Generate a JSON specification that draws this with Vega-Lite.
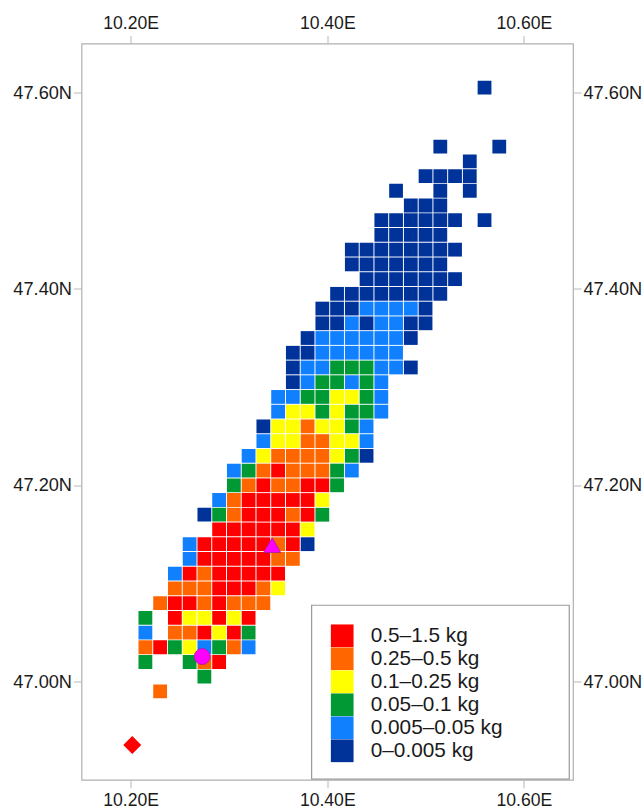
{"$schema":"https://vega.github.io/schema/vega-lite/v6.json","width":491.5,"height":736.3,"autosize":"none","padding":{"left":81.5,"top":43.5,"right":71,"bottom":29.2},"background":"white","config":{"view":{"stroke":"#b0b0b0","strokeWidth":1.2},"axis":{"domain":false,"grid":false,"tickColor":"#b8b8b8","tickSize":8,"tickWidth":1,"labelFont":"Liberation Sans","labelFontSize":17.6,"labelColor":"#1a1a1a","title":null}},"datasets":{"cells":[
{"lon":10.23,"lat":46.99,"load":"0.25–0.5 kg"},
{"lon":10.275,"lat":47.005,"load":"0.05–0.1 kg"},
{"lon":10.215,"lat":47.02,"load":"0.05–0.1 kg"},{"lon":10.26,"lat":47.02,"load":"0.05–0.1 kg"},{"lon":10.275,"lat":47.02,"load":"0.25–0.5 kg"},{"lon":10.29,"lat":47.02,"load":"0.5–1.5 kg"},
{"lon":10.215,"lat":47.035,"load":"0.25–0.5 kg"},{"lon":10.23,"lat":47.035,"load":"0.5–1.5 kg"},{"lon":10.245,"lat":47.035,"load":"0.05–0.1 kg"},{"lon":10.26,"lat":47.035,"load":"0.1–0.25 kg"},{"lon":10.275,"lat":47.035,"load":"0.005–0.05 kg"},{"lon":10.29,"lat":47.035,"load":"0.05–0.1 kg"},{"lon":10.305,"lat":47.035,"load":"0.25–0.5 kg"},{"lon":10.32,"lat":47.035,"load":"0.005–0.05 kg"},
{"lon":10.215,"lat":47.05,"load":"0.005–0.05 kg"},{"lon":10.245,"lat":47.05,"load":"0.25–0.5 kg"},{"lon":10.26,"lat":47.05,"load":"0.25–0.5 kg"},{"lon":10.275,"lat":47.05,"load":"0.5–1.5 kg"},{"lon":10.29,"lat":47.05,"load":"0.1–0.25 kg"},{"lon":10.305,"lat":47.05,"load":"0.5–1.5 kg"},{"lon":10.32,"lat":47.05,"load":"0.05–0.1 kg"},
{"lon":10.215,"lat":47.065,"load":"0.05–0.1 kg"},{"lon":10.245,"lat":47.065,"load":"0.5–1.5 kg"},{"lon":10.26,"lat":47.065,"load":"0.1–0.25 kg"},{"lon":10.275,"lat":47.065,"load":"0.1–0.25 kg"},{"lon":10.29,"lat":47.065,"load":"0.5–1.5 kg"},{"lon":10.305,"lat":47.065,"load":"0.1–0.25 kg"},{"lon":10.32,"lat":47.065,"load":"0.5–1.5 kg"},
{"lon":10.23,"lat":47.08,"load":"0.25–0.5 kg"},{"lon":10.245,"lat":47.08,"load":"0.5–1.5 kg"},{"lon":10.26,"lat":47.08,"load":"0.5–1.5 kg"},{"lon":10.275,"lat":47.08,"load":"0.25–0.5 kg"},{"lon":10.29,"lat":47.08,"load":"0.5–1.5 kg"},{"lon":10.305,"lat":47.08,"load":"0.25–0.5 kg"},{"lon":10.32,"lat":47.08,"load":"0.25–0.5 kg"},{"lon":10.335,"lat":47.08,"load":"0.25–0.5 kg"},
{"lon":10.245,"lat":47.095,"load":"0.25–0.5 kg"},{"lon":10.26,"lat":47.095,"load":"0.25–0.5 kg"},{"lon":10.275,"lat":47.095,"load":"0.25–0.5 kg"},{"lon":10.29,"lat":47.095,"load":"0.5–1.5 kg"},{"lon":10.305,"lat":47.095,"load":"0.5–1.5 kg"},{"lon":10.32,"lat":47.095,"load":"0.5–1.5 kg"},{"lon":10.335,"lat":47.095,"load":"0.25–0.5 kg"},{"lon":10.35,"lat":47.095,"load":"0.1–0.25 kg"},
{"lon":10.245,"lat":47.11,"load":"0.005–0.05 kg"},{"lon":10.26,"lat":47.11,"load":"0.5–1.5 kg"},{"lon":10.275,"lat":47.11,"load":"0.25–0.5 kg"},{"lon":10.29,"lat":47.11,"load":"0.5–1.5 kg"},{"lon":10.305,"lat":47.11,"load":"0.5–1.5 kg"},{"lon":10.32,"lat":47.11,"load":"0.5–1.5 kg"},{"lon":10.335,"lat":47.11,"load":"0.5–1.5 kg"},{"lon":10.35,"lat":47.11,"load":"0.5–1.5 kg"},
{"lon":10.26,"lat":47.125,"load":"0.005–0.05 kg"},{"lon":10.275,"lat":47.125,"load":"0.5–1.5 kg"},{"lon":10.29,"lat":47.125,"load":"0.5–1.5 kg"},{"lon":10.305,"lat":47.125,"load":"0.5–1.5 kg"},{"lon":10.32,"lat":47.125,"load":"0.5–1.5 kg"},{"lon":10.335,"lat":47.125,"load":"0.5–1.5 kg"},{"lon":10.35,"lat":47.125,"load":"0.25–0.5 kg"},{"lon":10.365,"lat":47.125,"load":"0.25–0.5 kg"},
{"lon":10.26,"lat":47.14,"load":"0.005–0.05 kg"},{"lon":10.275,"lat":47.14,"load":"0.5–1.5 kg"},{"lon":10.29,"lat":47.14,"load":"0.5–1.5 kg"},{"lon":10.305,"lat":47.14,"load":"0.5–1.5 kg"},{"lon":10.32,"lat":47.14,"load":"0.5–1.5 kg"},{"lon":10.335,"lat":47.14,"load":"0.5–1.5 kg"},{"lon":10.35,"lat":47.14,"load":"0.25–0.5 kg"},{"lon":10.365,"lat":47.14,"load":"0.5–1.5 kg"},{"lon":10.38,"lat":47.14,"load":"0–0.005 kg"},
{"lon":10.29,"lat":47.155,"load":"0.5–1.5 kg"},{"lon":10.305,"lat":47.155,"load":"0.5–1.5 kg"},{"lon":10.32,"lat":47.155,"load":"0.5–1.5 kg"},{"lon":10.335,"lat":47.155,"load":"0.5–1.5 kg"},{"lon":10.35,"lat":47.155,"load":"0.5–1.5 kg"},{"lon":10.365,"lat":47.155,"load":"0.5–1.5 kg"},{"lon":10.38,"lat":47.155,"load":"0.1–0.25 kg"},
{"lon":10.275,"lat":47.17,"load":"0–0.005 kg"},{"lon":10.29,"lat":47.17,"load":"0.05–0.1 kg"},{"lon":10.305,"lat":47.17,"load":"0.25–0.5 kg"},{"lon":10.32,"lat":47.17,"load":"0.5–1.5 kg"},{"lon":10.335,"lat":47.17,"load":"0.5–1.5 kg"},{"lon":10.35,"lat":47.17,"load":"0.5–1.5 kg"},{"lon":10.365,"lat":47.17,"load":"0.25–0.5 kg"},{"lon":10.38,"lat":47.17,"load":"0.5–1.5 kg"},{"lon":10.395,"lat":47.17,"load":"0.05–0.1 kg"},
{"lon":10.29,"lat":47.185,"load":"0.005–0.05 kg"},{"lon":10.305,"lat":47.185,"load":"0.25–0.5 kg"},{"lon":10.32,"lat":47.185,"load":"0.5–1.5 kg"},{"lon":10.335,"lat":47.185,"load":"0.5–1.5 kg"},{"lon":10.35,"lat":47.185,"load":"0.5–1.5 kg"},{"lon":10.365,"lat":47.185,"load":"0.5–1.5 kg"},{"lon":10.38,"lat":47.185,"load":"0.5–1.5 kg"},{"lon":10.395,"lat":47.185,"load":"0.1–0.25 kg"},
{"lon":10.305,"lat":47.2,"load":"0.05–0.1 kg"},{"lon":10.32,"lat":47.2,"load":"0.25–0.5 kg"},{"lon":10.335,"lat":47.2,"load":"0.5–1.5 kg"},{"lon":10.35,"lat":47.2,"load":"0.25–0.5 kg"},{"lon":10.365,"lat":47.2,"load":"0.25–0.5 kg"},{"lon":10.38,"lat":47.2,"load":"0.5–1.5 kg"},{"lon":10.395,"lat":47.2,"load":"0.5–1.5 kg"},{"lon":10.41,"lat":47.2,"load":"0.05–0.1 kg"},
{"lon":10.305,"lat":47.215,"load":"0.005–0.05 kg"},{"lon":10.32,"lat":47.215,"load":"0.05–0.1 kg"},{"lon":10.335,"lat":47.215,"load":"0.25–0.5 kg"},{"lon":10.35,"lat":47.215,"load":"0.5–1.5 kg"},{"lon":10.365,"lat":47.215,"load":"0.25–0.5 kg"},{"lon":10.38,"lat":47.215,"load":"0.25–0.5 kg"},{"lon":10.395,"lat":47.215,"load":"0.25–0.5 kg"},{"lon":10.41,"lat":47.215,"load":"0.05–0.1 kg"},{"lon":10.425,"lat":47.215,"load":"0.005–0.05 kg"},
{"lon":10.32,"lat":47.23,"load":"0.005–0.05 kg"},{"lon":10.335,"lat":47.23,"load":"0.1–0.25 kg"},{"lon":10.35,"lat":47.23,"load":"0.25–0.5 kg"},{"lon":10.365,"lat":47.23,"load":"0.25–0.5 kg"},{"lon":10.38,"lat":47.23,"load":"0.25–0.5 kg"},{"lon":10.395,"lat":47.23,"load":"0.25–0.5 kg"},{"lon":10.41,"lat":47.23,"load":"0.1–0.25 kg"},{"lon":10.425,"lat":47.23,"load":"0.05–0.1 kg"},{"lon":10.44,"lat":47.23,"load":"0–0.005 kg"},
{"lon":10.335,"lat":47.245,"load":"0.005–0.05 kg"},{"lon":10.35,"lat":47.245,"load":"0.1–0.25 kg"},{"lon":10.365,"lat":47.245,"load":"0.1–0.25 kg"},{"lon":10.38,"lat":47.245,"load":"0.25–0.5 kg"},{"lon":10.395,"lat":47.245,"load":"0.25–0.5 kg"},{"lon":10.41,"lat":47.245,"load":"0.1–0.25 kg"},{"lon":10.425,"lat":47.245,"load":"0.1–0.25 kg"},{"lon":10.44,"lat":47.245,"load":"0.005–0.05 kg"},
{"lon":10.335,"lat":47.26,"load":"0–0.005 kg"},{"lon":10.35,"lat":47.26,"load":"0.1–0.25 kg"},{"lon":10.365,"lat":47.26,"load":"0.1–0.25 kg"},{"lon":10.38,"lat":47.26,"load":"0.25–0.5 kg"},{"lon":10.395,"lat":47.26,"load":"0.1–0.25 kg"},{"lon":10.41,"lat":47.26,"load":"0.1–0.25 kg"},{"lon":10.425,"lat":47.26,"load":"0.05–0.1 kg"},{"lon":10.44,"lat":47.26,"load":"0.005–0.05 kg"},
{"lon":10.35,"lat":47.275,"load":"0.005–0.05 kg"},{"lon":10.365,"lat":47.275,"load":"0.1–0.25 kg"},{"lon":10.38,"lat":47.275,"load":"0.1–0.25 kg"},{"lon":10.395,"lat":47.275,"load":"0.05–0.1 kg"},{"lon":10.41,"lat":47.275,"load":"0.1–0.25 kg"},{"lon":10.425,"lat":47.275,"load":"0.05–0.1 kg"},{"lon":10.44,"lat":47.275,"load":"0.05–0.1 kg"},{"lon":10.455,"lat":47.275,"load":"0.005–0.05 kg"},
{"lon":10.35,"lat":47.29,"load":"0.005–0.05 kg"},{"lon":10.365,"lat":47.29,"load":"0.005–0.05 kg"},{"lon":10.38,"lat":47.29,"load":"0.05–0.1 kg"},{"lon":10.395,"lat":47.29,"load":"0.05–0.1 kg"},{"lon":10.41,"lat":47.29,"load":"0.1–0.25 kg"},{"lon":10.425,"lat":47.29,"load":"0.1–0.25 kg"},{"lon":10.44,"lat":47.29,"load":"0.05–0.1 kg"},{"lon":10.455,"lat":47.29,"load":"0.005–0.05 kg"},
{"lon":10.365,"lat":47.305,"load":"0–0.005 kg"},{"lon":10.38,"lat":47.305,"load":"0.005–0.05 kg"},{"lon":10.395,"lat":47.305,"load":"0.05–0.1 kg"},{"lon":10.41,"lat":47.305,"load":"0.05–0.1 kg"},{"lon":10.425,"lat":47.305,"load":"0.005–0.05 kg"},{"lon":10.44,"lat":47.305,"load":"0.05–0.1 kg"},{"lon":10.455,"lat":47.305,"load":"0.005–0.05 kg"},
{"lon":10.365,"lat":47.32,"load":"0–0.005 kg"},{"lon":10.38,"lat":47.32,"load":"0.005–0.05 kg"},{"lon":10.395,"lat":47.32,"load":"0.005–0.05 kg"},{"lon":10.41,"lat":47.32,"load":"0.05–0.1 kg"},{"lon":10.425,"lat":47.32,"load":"0.05–0.1 kg"},{"lon":10.44,"lat":47.32,"load":"0.05–0.1 kg"},{"lon":10.455,"lat":47.32,"load":"0.005–0.05 kg"},{"lon":10.47,"lat":47.32,"load":"0.005–0.05 kg"},{"lon":10.485,"lat":47.32,"load":"0–0.005 kg"},
{"lon":10.365,"lat":47.335,"load":"0–0.005 kg"},{"lon":10.38,"lat":47.335,"load":"0–0.005 kg"},{"lon":10.395,"lat":47.335,"load":"0.005–0.05 kg"},{"lon":10.41,"lat":47.335,"load":"0.005–0.05 kg"},{"lon":10.425,"lat":47.335,"load":"0.005–0.05 kg"},{"lon":10.44,"lat":47.335,"load":"0.005–0.05 kg"},{"lon":10.455,"lat":47.335,"load":"0.005–0.05 kg"},{"lon":10.47,"lat":47.335,"load":"0.005–0.05 kg"},
{"lon":10.38,"lat":47.35,"load":"0–0.005 kg"},{"lon":10.395,"lat":47.35,"load":"0.005–0.05 kg"},{"lon":10.41,"lat":47.35,"load":"0.005–0.05 kg"},{"lon":10.425,"lat":47.35,"load":"0.005–0.05 kg"},{"lon":10.44,"lat":47.35,"load":"0.005–0.05 kg"},{"lon":10.455,"lat":47.35,"load":"0.005–0.05 kg"},{"lon":10.47,"lat":47.35,"load":"0.005–0.05 kg"},{"lon":10.485,"lat":47.35,"load":"0–0.005 kg"},
{"lon":10.395,"lat":47.365,"load":"0–0.005 kg"},{"lon":10.41,"lat":47.365,"load":"0–0.005 kg"},{"lon":10.425,"lat":47.365,"load":"0.005–0.05 kg"},{"lon":10.44,"lat":47.365,"load":"0–0.005 kg"},{"lon":10.455,"lat":47.365,"load":"0.005–0.05 kg"},{"lon":10.47,"lat":47.365,"load":"0.005–0.05 kg"},{"lon":10.485,"lat":47.365,"load":"0–0.005 kg"},{"lon":10.5,"lat":47.365,"load":"0–0.005 kg"},
{"lon":10.395,"lat":47.38,"load":"0–0.005 kg"},{"lon":10.41,"lat":47.38,"load":"0–0.005 kg"},{"lon":10.425,"lat":47.38,"load":"0–0.005 kg"},{"lon":10.44,"lat":47.38,"load":"0.005–0.05 kg"},{"lon":10.455,"lat":47.38,"load":"0.005–0.05 kg"},{"lon":10.47,"lat":47.38,"load":"0.005–0.05 kg"},{"lon":10.485,"lat":47.38,"load":"0.005–0.05 kg"},{"lon":10.5,"lat":47.38,"load":"0–0.005 kg"},
{"lon":10.41,"lat":47.395,"load":"0–0.005 kg"},{"lon":10.425,"lat":47.395,"load":"0–0.005 kg"},{"lon":10.44,"lat":47.395,"load":"0–0.005 kg"},{"lon":10.455,"lat":47.395,"load":"0–0.005 kg"},{"lon":10.47,"lat":47.395,"load":"0–0.005 kg"},{"lon":10.485,"lat":47.395,"load":"0–0.005 kg"},{"lon":10.5,"lat":47.395,"load":"0–0.005 kg"},{"lon":10.515,"lat":47.395,"load":"0–0.005 kg"},
{"lon":10.44,"lat":47.41,"load":"0–0.005 kg"},{"lon":10.455,"lat":47.41,"load":"0–0.005 kg"},{"lon":10.47,"lat":47.41,"load":"0–0.005 kg"},{"lon":10.485,"lat":47.41,"load":"0–0.005 kg"},{"lon":10.5,"lat":47.41,"load":"0–0.005 kg"},{"lon":10.515,"lat":47.41,"load":"0–0.005 kg"},{"lon":10.53,"lat":47.41,"load":"0–0.005 kg"},
{"lon":10.425,"lat":47.425,"load":"0–0.005 kg"},{"lon":10.44,"lat":47.425,"load":"0–0.005 kg"},{"lon":10.455,"lat":47.425,"load":"0–0.005 kg"},{"lon":10.47,"lat":47.425,"load":"0–0.005 kg"},{"lon":10.485,"lat":47.425,"load":"0–0.005 kg"},{"lon":10.5,"lat":47.425,"load":"0–0.005 kg"},{"lon":10.515,"lat":47.425,"load":"0–0.005 kg"},
{"lon":10.425,"lat":47.44,"load":"0–0.005 kg"},{"lon":10.44,"lat":47.44,"load":"0–0.005 kg"},{"lon":10.455,"lat":47.44,"load":"0–0.005 kg"},{"lon":10.47,"lat":47.44,"load":"0–0.005 kg"},{"lon":10.485,"lat":47.44,"load":"0–0.005 kg"},{"lon":10.5,"lat":47.44,"load":"0–0.005 kg"},{"lon":10.515,"lat":47.44,"load":"0–0.005 kg"},{"lon":10.53,"lat":47.44,"load":"0–0.005 kg"},
{"lon":10.455,"lat":47.455,"load":"0–0.005 kg"},{"lon":10.47,"lat":47.455,"load":"0–0.005 kg"},{"lon":10.485,"lat":47.455,"load":"0–0.005 kg"},{"lon":10.5,"lat":47.455,"load":"0–0.005 kg"},{"lon":10.515,"lat":47.455,"load":"0–0.005 kg"},
{"lon":10.455,"lat":47.47,"load":"0–0.005 kg"},{"lon":10.47,"lat":47.47,"load":"0–0.005 kg"},{"lon":10.485,"lat":47.47,"load":"0–0.005 kg"},{"lon":10.5,"lat":47.47,"load":"0–0.005 kg"},{"lon":10.515,"lat":47.47,"load":"0–0.005 kg"},{"lon":10.53,"lat":47.47,"load":"0–0.005 kg"},{"lon":10.56,"lat":47.47,"load":"0–0.005 kg"},
{"lon":10.485,"lat":47.485,"load":"0–0.005 kg"},{"lon":10.5,"lat":47.485,"load":"0–0.005 kg"},{"lon":10.515,"lat":47.485,"load":"0–0.005 kg"},
{"lon":10.47,"lat":47.5,"load":"0–0.005 kg"},{"lon":10.515,"lat":47.5,"load":"0–0.005 kg"},{"lon":10.545,"lat":47.5,"load":"0–0.005 kg"},
{"lon":10.5,"lat":47.515,"load":"0–0.005 kg"},{"lon":10.515,"lat":47.515,"load":"0–0.005 kg"},{"lon":10.53,"lat":47.515,"load":"0–0.005 kg"},{"lon":10.545,"lat":47.515,"load":"0–0.005 kg"},
{"lon":10.545,"lat":47.53,"load":"0–0.005 kg"},
{"lon":10.515,"lat":47.545,"load":"0–0.005 kg"},{"lon":10.575,"lat":47.545,"load":"0–0.005 kg"},
{"lon":10.56,"lat":47.605,"load":"0–0.005 kg"}
]},"layer":[
{"data":{"name":"cells"},"mark":{"type":"square","size":190,"opacity":1,"filled":true,"clip":true},"encoding":{"x":{"field":"lon","type":"quantitative","scale":{"domain":[10.15,10.65],"nice":false,"zero":false},"axis":{"orient":"bottom","values":[10.2,10.4,10.6],"labelExpr":"format(datum.value,'.2f')+'E'","labelPadding":3.5}},"y":{"field":"lat","type":"quantitative","scale":{"domain":[46.9,47.65],"nice":false,"zero":false},"axis":{"orient":"left","values":[47,47.2,47.4,47.6],"labelExpr":"format(datum.value,'.2f')+'N'","labelPadding":2,"labelFontSize":18.2,"labelOffset":0.7}},"color":{"field":"load","type":"nominal","sort":null,"scale":{"domain":["0.5–1.5 kg","0.25–0.5 kg","0.1–0.25 kg","0.05–0.1 kg","0.005–0.05 kg","0–0.005 kg"],"range":["#ff0000","#ff6600","#ffff00","#009933","#1080ff","#003399"]},"legend":{"title":null,"orient":"none","legendX":249.2,"legendY":580.8,"padding":0,"symbolType":"square","symbolSize":515,"symbolStrokeWidth":0,"symbolOpacity":1,"rowPadding":0,"labelFont":"Liberation Sans","labelFontSize":20.8,"labelColor":"#1a1a1a","labelOffset":17,"labelLimit":300}}}},
{"mark":{"type":"rect","fill":"white","stroke":"#9a9a9a","strokeWidth":1.2},"data":{"values":[{"panel":"legend"}]},"encoding":{"x":{"datum":10.3841,"type":"quantitative","axis":null},"x2":{"datum":10.6462},"y":{"datum":46.9006,"type":"quantitative","axis":null},"y2":{"datum":47.0778}}},
{"data":{"values":[{"lon":10.2728,"lat":47.0255}]},"mark":{"type":"point","shape":"circle","size":254,"filled":true,"fill":"#ff00ff","opacity":1,"stroke":"#a0209a","strokeWidth":0.8},"encoding":{"x":{"field":"lon","type":"quantitative","axis":{"orient":"top","values":[10.2,10.4,10.6],"labelExpr":"format(datum.value,'.2f')+'E'","labelPadding":3.5}},"y":{"field":"lat","type":"quantitative","axis":{"orient":"right","values":[47,47.2,47.4,47.6],"labelExpr":"format(datum.value,'.2f')+'N'","labelPadding":2,"labelFontSize":18.2,"labelOffset":0.7}}}},
{"data":{"values":[{"lon":10.344,"lat":47.139}]},"mark":{"type":"point","shape":"triangle-up","size":289,"filled":true,"fill":"#ff00ff","opacity":1,"stroke":"#a0209a","strokeWidth":0.8},"encoding":{"x":{"field":"lon","type":"quantitative","axis":null},"y":{"field":"lat","type":"quantitative","axis":null}}},
{"data":{"values":[{"lon":10.2016,"lat":46.9355}]},"mark":{"type":"point","shape":"diamond","size":324,"filled":true,"fill":"#ff0000","opacity":1},"encoding":{"x":{"field":"lon","type":"quantitative","axis":null},"y":{"field":"lat","type":"quantitative","axis":null}}}
],"resolve":{"axis":{"x":"independent","y":"independent"}}}
